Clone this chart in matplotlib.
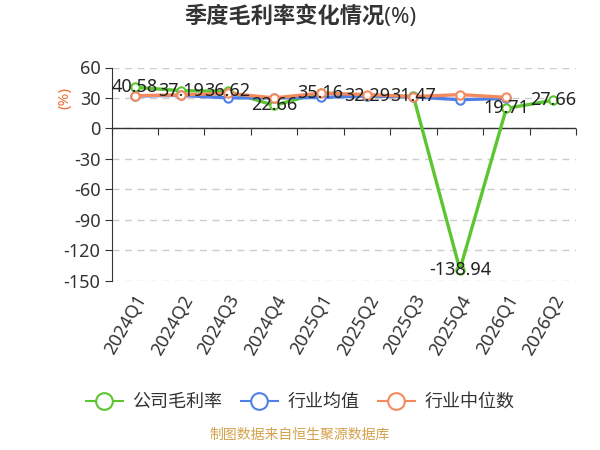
import numpy as np
import matplotlib
matplotlib.use("Agg")
import matplotlib.pyplot as plt
from matplotlib.lines import Line2D

plt.rcParams['font.family'] = ['Noto Sans', 'Noto Sans CJK SC', 'DejaVu Sans']
plt.rcParams['axes.unicode_minus'] = False

# quarterly gross margin data (%)
quarters = ['2024Q1', '2024Q2', '2024Q3', '2024Q4', '2025Q1',
            '2025Q2', '2025Q3', '2025Q4', '2026Q1', '2026Q2']
company = [40.58, 37.19, 36.62, 22.66, 35.16, 32.29, 31.47, -138.94, 19.71, 27.66]
industry_mean = [32.0, 32.5, 30.1, 30.0, 30.5, 32.0, 31.0, 28.3, 29.5, np.nan]
industry_median = [32.3, 33.0, 34.6, 30.1, 34.7, 33.4, 31.4, 33.3, 30.6, np.nan]

GREEN = '#5cc530'
BLUE = '#4f80e8'
ORANGE = '#f58a5c'

fig = plt.figure(figsize=(6, 4.5), dpi=100)
ax = fig.add_axes([0.186, 0.376, 0.774, 0.474])

x = np.arange(len(quarters))
series = [(company, GREEN, '公司毛利率'),
          (industry_mean, BLUE, '行业均值'),
          (industry_median, ORANGE, '行业中位数')]
for vals, color, name in series:
    ax.plot(x, vals, color=color, lw=2.4, marker='o', markersize=6,
            markerfacecolor='white', markeredgecolor=color, markeredgewidth=1.5,
            label=name, zorder=3)

# data labels for the company series, centred on the points
for xi, v in zip(x, company):
    ax.text(xi, v, f'{v:.2f}', ha='center', va='center', fontsize=13,
            color='#222222', zorder=5)

ymin, ymax = -150, 60
ax.set_ylim(ymin, ymax)
ax.set_xlim(-0.5, len(quarters) - 0.5)
ax.set_yticks(np.arange(ymin, ymax + 1, 30))
ax.yaxis.grid(True, linestyle=(0, (5, 4)), color='#cccccc', lw=1)
ax.set_axisbelow(True)

for s in ['top', 'right', 'bottom']:
    ax.spines[s].set_visible(False)
ax.spines['left'].set_color('#333333')
ax.tick_params(axis='y', length=5, color='#333333', labelsize=13,
               labelcolor='#333333', pad=3)

ax.set_xticks(x)
ax.set_xticklabels(quarters, rotation=60, ha='right', rotation_mode='anchor',
                   fontsize=13, color='#333333')
ax.tick_params(axis='x', length=0, pad=8)

# category axis line sitting on zero, ticks at band edges
ax.axhline(0, color='#333333', lw=1, zorder=2)
zero_pos = (0 - ymin) / (ymax - ymin)
zax = ax.secondary_xaxis(zero_pos)
zax.set_xticks(np.arange(-0.5, len(quarters), 1.0))
zax.set_xticklabels([])
zax.tick_params(axis='x', which='both', bottom=True, top=False,
                length=5, color='#333333', direction='out')
for s in zax.spines.values():
    s.set_visible(False)

ax.text(-0.1, 30, '(%)', transform=ax.get_yaxis_transform(), rotation=90,
        ha='center', va='center', fontsize=11, color='#f06c36')

fig.text(0.5, 0.962, '季度毛利率变化情况(%)', ha='center', va='center',
         fontsize=16, fontweight='bold', color='#333333')

handles = [Line2D([], [], color=c, lw=1.5, marker='o', markersize=12,
                  markerfacecolor='white', markeredgecolor=c, markeredgewidth=1.5)
           for _, c, _ in series]
fig.legend(handles, [n for _, _, n in series], loc='center',
           bbox_to_anchor=(0.5, 0.107), ncol=3, frameon=False, fontsize=13,
           handlelength=2.1, handletextpad=0.5, columnspacing=1.0,
           labelcolor='#333333')

fig.text(0.5, 0.016, '制图数据来自恒生聚源数据库', ha='center', va='bottom',
         fontsize=10, color='#d4a24c')

fig.savefig('out.png', dpi=100)
